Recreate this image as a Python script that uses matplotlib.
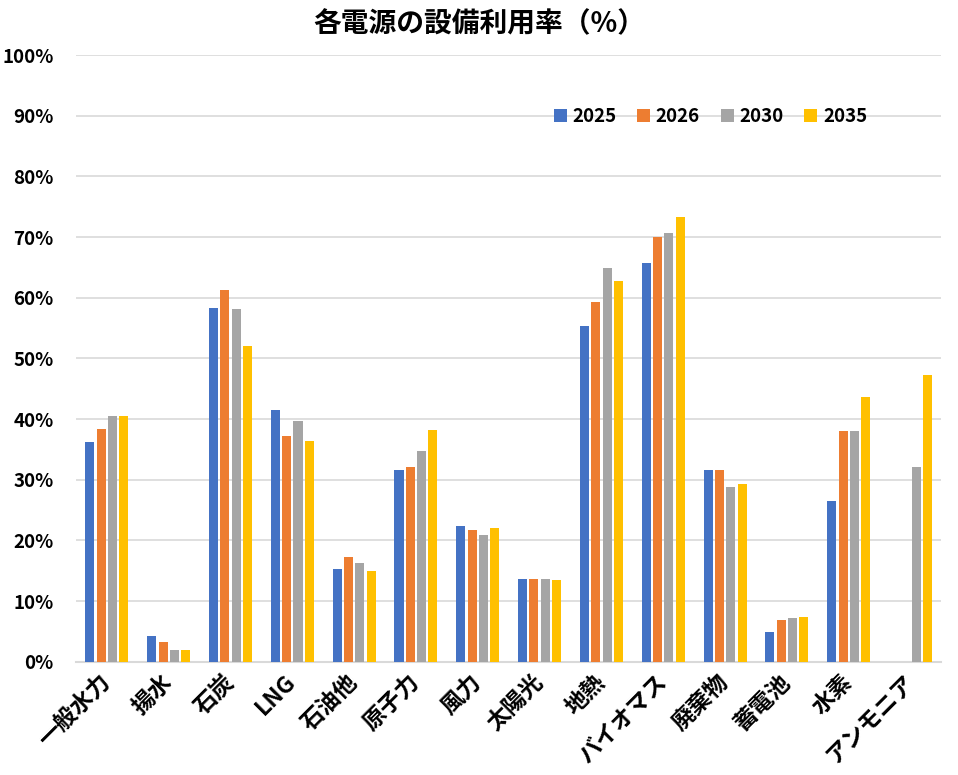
import numpy as np
import matplotlib
matplotlib.use("Agg")
import matplotlib.pyplot as plt
from matplotlib.ticker import FuncFormatter

plt.rcParams['font.family'] = ['Noto Sans CJK JP', 'DejaVu Sans']

# データ（読み取り値、%）
categories = ["一般水力", "揚水", "石炭", "LNG", "石油他", "原子力", "風力", "太陽光",
              "地熱", "バイオマス", "廃棄物", "蓄電池", "水素", "アンモニア"]
years = ["2025", "2026", "2030", "2035"]
v2025 = [36.2, 4.3, 58.3, 41.5, 15.3, 31.6, 22.4, 13.7, 55.4, 65.7, 31.6, 4.9, 26.5, np.nan]
v2026 = [38.4, 3.3, 61.3, 37.2, 17.3, 32.1, 21.7, 13.7, 59.3, 70.0, 31.6, 6.9, 38.1, np.nan]
v2030 = [40.5, 2.0, 58.2, 39.7, 16.3, 34.8, 20.9, 13.7, 64.9, 70.7, 28.8, 7.2, 38.1, 32.1]
v2035 = [40.5, 2.0, 52.1, 36.4, 15.0, 38.2, 22.1, 13.5, 62.8, 73.3, 29.3, 7.4, 43.7, 47.3]
series = [v2025, v2026, v2030, v2035]
colors = ["#4472C4", "#ED7D31", "#A5A5A5", "#FFC000"]

fig = plt.figure(figsize=(9.58, 7.75), dpi=100)
ax = fig.add_axes([0.0793, 0.146, 0.9034, 0.783])

x = np.arange(len(categories))
step = 0.183
width = 0.146
for i, (vals, col, yr) in enumerate(zip(series, colors, years)):
    ax.bar(x + (i - 1.5) * step, vals, width=width, color=col, label=yr, zorder=3)

ax.set_xlim(-0.5, len(categories) - 0.5)
ax.set_ylim(0, 100)
ax.set_yticks(np.arange(0, 101, 10))
ax.yaxis.set_major_formatter(FuncFormatter(lambda v, p: f"{v:.0f}%"))
ax.grid(axis='y', color='#d9d9d9', linewidth=1.2, zorder=0)
for s in ['top', 'right', 'left']:
    ax.spines[s].set_visible(False)
ax.spines['bottom'].set_color('#d9d9d9')
ax.spines['bottom'].set_linewidth(1.5)
ax.tick_params(axis='both', length=0)
ax.tick_params(axis='y', labelsize=13.5, pad=16)

ax.set_xticks(x)
ax.set_xticklabels(categories, rotation=45, ha='right', va='center',
                   rotation_mode='anchor', fontsize=16.5, fontweight='bold')
ax.tick_params(axis='x', pad=12)
for lab in ax.get_yticklabels():
    lab.set_fontweight('bold')

ax.legend(loc='center', bbox_to_anchor=(0.733, 0.898), ncol=4, frameon=False,
          prop={'size': 13.5, 'weight': 'bold'}, handlelength=0.7, handleheight=0.7,
          handletextpad=0.3, columnspacing=1.1)

fig.suptitle("各電源の設備利用率（%）", fontsize=20, fontweight='bold', y=0.987)

fig.savefig("out.png", dpi=100)
